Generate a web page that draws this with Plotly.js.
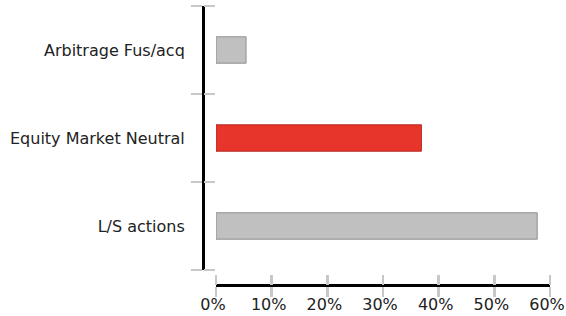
<!DOCTYPE html>
<html>
<head>
<meta charset="utf-8">
<script src="https://cdn.plot.ly/plotly-3.0.1.min.js"></script>
<style>html,body{margin:0;padding:0;background:#fff;}#chart{width:566px;height:316px;}</style>
</head>
<body>
<div id="chart"></div>
<script>
// Data (top to bottom as shown)
const categories = ["Arbitrage Fus/acq", "Equity Market Neutral", "L/S actions"];
const values = [0.054, 0.369, 0.577];
const fillColors = ["#c0c0c0", "#e8352b", "#c0c0c0"];
const lineColors = ["#8f8f8f", "#b52a22", "#8f8f8f"];
const xTickVals = [0, 0.1, 0.2, 0.3, 0.4, 0.5, 0.6];
const xTickText = ["0%", "10%", "20%", "30%", "40%", "50%", "60%"];

const W = 566, H = 316;
const font = {family: "DejaVu Sans, Verdana, sans-serif", size: 16, color: "#222"};
const tickGray = "#c8c8c8";

// plot geometry in pixels
const px = {x0: 216, x1: 550, yTop: 6, yBot: 270, yAxisX: 203, xAxisY: 284.5};
const xRange = [0, 0.6];
const yRange = [-0.5, 2.5];
const ext = 4; // extra pixels for the crossing-tick helper axes

const xDomain = [px.x0 / W, px.x1 / W];
const yDomain = [1 - px.yBot / H, 1 - px.yTop / H];
const yPos = px.yAxisX / W;
const xPos = 1 - px.xAxisY / H;

const xPerPx = (xRange[1] - xRange[0]) / (px.x1 - px.x0);
const yPerPx = (yRange[1] - yRange[0]) / (px.yBot - px.yTop);
const x2Domain = [(px.x0 - ext) / W, (px.x1 + ext) / W];
const x2Range = [xRange[0] - ext * xPerPx, xRange[1] + ext * xPerPx];
const y2Domain = [1 - (px.yBot + ext) / H, 1 - (px.yTop - ext) / H];
const y2Range = [yRange[0] - ext * yPerPx, yRange[1] + ext * yPerPx];

const traces = [
  {
    type: "bar", orientation: "h",
    y: categories, x: values,
    width: 0.3,
    marker: {color: fillColors, line: {color: lineColors, width: 1}},
    hoverinfo: "skip", xaxis: "x", yaxis: "y"
  },
  {
    type: "bar", orientation: "h",
    y: categories, x: values,
    width: 0.3,
    marker: {color: "rgba(0,0,0,0)", line: {width: 0}},
    hoverinfo: "skip", xaxis: "x2", yaxis: "y2", showlegend: false
  }
];

const yCommon = {
  type: "category",
  categoryorder: "array",
  categoryarray: categories.slice().reverse(),
  anchor: "free",
  position: yPos,
  tickson: "boundaries",
  tickwidth: 2.5,
  tickcolor: tickGray,
  ticklen: 11,
  showgrid: false,
  zeroline: false,
  fixedrange: true
};
const xCommon = {
  anchor: "free",
  position: xPos,
  tickvals: xTickVals,
  ticktext: xTickText,
  tickwidth: 2.5,
  tickcolor: tickGray,
  ticklen: 10,
  showgrid: false,
  zeroline: false,
  fixedrange: true
};

const layout = {
  width: W, height: H,
  margin: {l: 0, r: 0, t: 0, b: 0, pad: 0},
  paper_bgcolor: "#fff", plot_bgcolor: "rgba(0,0,0,0)",
  showlegend: false,
  font: font,
  yaxis: Object.assign({}, yCommon, {
    domain: yDomain, range: yRange,
    ticks: "outside", showline: true, linecolor: "#000", linewidth: 3,
    showticklabels: true, ticklabelstandoff: 14, tickfont: font
  }),
  yaxis2: Object.assign({}, yCommon, {
    domain: y2Domain, range: y2Range,
    ticks: "inside", showline: false, showticklabels: false
  }),
  xaxis: Object.assign({}, xCommon, {
    domain: xDomain, range: xRange,
    ticks: "outside", showline: true, linecolor: "#000", linewidth: 3,
    showticklabels: true, tickfont: font, ticklabelstandoff: -6,
    ticklabelshift: -3, ticklabeloverflow: "allow"
  }),
  xaxis2: Object.assign({}, xCommon, {
    domain: x2Domain, range: x2Range,
    ticks: "inside", showline: false, showticklabels: false
  })
};

Plotly.newPlot("chart", traces, layout, {displayModeBar: false, staticPlot: true});
</script>
</body>
</html>
